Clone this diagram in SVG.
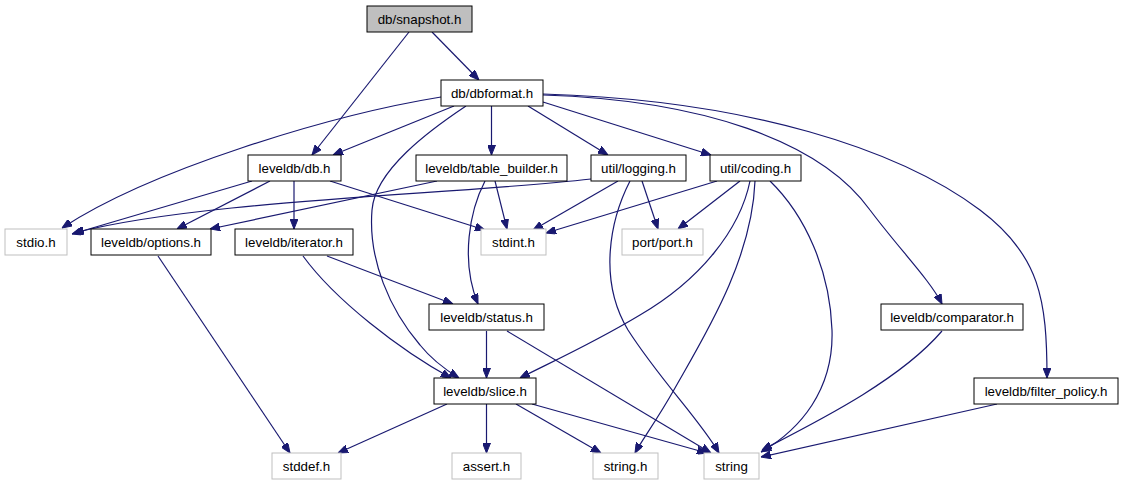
<svg xmlns="http://www.w3.org/2000/svg" width="1124" height="485" viewBox="0 0 1124 485">
<style>
.n rect{fill:#fff;stroke:#000;stroke-width:1}
.n.ext rect{stroke:#bfbfbf}
.n.cur rect{fill:#bfbfbf}
.n text{font-family:"Liberation Sans",Arial,sans-serif;font-size:13.33px;text-anchor:middle;fill:#000}
#edges path{fill:none;stroke:#191970;stroke-width:1.2;marker-end:url(#ah)}
</style>
<defs>
<marker id="ah" markerUnits="userSpaceOnUse" markerWidth="10" markerHeight="8" refX="10" refY="4" orient="auto">
<path d="M0,0 L10,4 L0,8 z" fill="#191970" stroke="#191970"/>
</marker>
</defs>
<rect width="1124" height="485" fill="#fff"/>
<g id="edges">
<path d="M432,32 L479,80"/>
<path d="M409,32 L312,155"/>
<path d="M454,106 L333,155"/>
<path d="M441,97 C 330,115 150,170 62,228"/>
<path d="M466,106 C 430,130 375,170 372,210 C 368,260 390,310 420,345 C 432,360 446,370 459,378"/>
<path d="M491.5,106 L491.5,155"/>
<path d="M528,106 L608,155"/>
<path d="M543,102 L711,155"/>
<path d="M543,95 C 700,100 820,140 870,210 C 900,250 930,280 942,304"/>
<path d="M543,94 C 750,100 900,150 980,210 C 1040,255 1047,300 1047,378"/>
<path d="M252,181 L72,234"/>
<path d="M591,179 C 450,195 200,200 74,233"/>
<path d="M270,181 L177,229"/>
<path d="M437,181 L210,229"/>
<path d="M294,181 L294,229"/>
<path d="M330,181 L485,230"/>
<path d="M495,181 L507,229"/>
<path d="M485,181 C 470,210 460,260 478,304"/>
<path d="M618,181 L533,230"/>
<path d="M717,181 L546,233"/>
<path d="M642,181 L658,229"/>
<path d="M740,181 L678,229"/>
<path d="M630,181 C 610,220 598,280 628,330 C 660,380 700,420 719,453"/>
<path d="M755,181 C 752,260 705,335 675,388 C 657,420 642,440 635,453"/>
<path d="M750,181 C 740,230 700,280 640,315 C 590,345 545,365 520,378"/>
<path d="M770,181 C 805,215 830,270 832,330 C 834,390 800,430 761,452"/>
<path d="M942,331 C 900,380 820,420 762,450"/>
<path d="M997,404 L761,457"/>
<path d="M327,256 L453,304"/>
<path d="M303,256 C 335,300 400,350 451,378"/>
<path d="M486.5,331 L486.5,378"/>
<path d="M507,331 L711,453"/>
<path d="M447,404 L338,453"/>
<path d="M486.5,404 L486.5,453"/>
<path d="M516,404 L601,453"/>
<path d="M532,404 L707,453"/>
<path d="M158,256 L290,453"/>
</g>
<g id="snapshot" class="n cur"><rect x="367" y="6" width="105" height="26"/><text x="419.5" y="23.5">db/snapshot.h</text></g>
<g id="dbformat" class="n"><rect x="441" y="80" width="102" height="26"/><text x="492" y="97.5">db/dbformat.h</text></g>
<g id="db" class="n"><rect x="248" y="155" width="93" height="26"/><text x="294.5" y="172.5">leveldb/db.h</text></g>
<g id="table_builder" class="n"><rect x="416" y="155" width="151" height="26"/><text x="491.5" y="172.5">leveldb/table_builder.h</text></g>
<g id="logging" class="n"><rect x="591" y="155" width="95" height="26"/><text x="638.5" y="172.5">util/logging.h</text></g>
<g id="coding" class="n"><rect x="710" y="155" width="91" height="26"/><text x="755.5" y="172.5">util/coding.h</text></g>
<g id="stdio" class="n ext"><rect x="5" y="229" width="62" height="26"/><text x="36" y="246.5">stdio.h</text></g>
<g id="options" class="n"><rect x="91" y="229" width="120" height="26"/><text x="151" y="246.5">leveldb/options.h</text></g>
<g id="iterator" class="n"><rect x="235" y="229" width="118" height="26"/><text x="294" y="246.5">leveldb/iterator.h</text></g>
<g id="stdint" class="n ext"><rect x="481" y="229" width="65" height="26"/><text x="513.5" y="246.5">stdint.h</text></g>
<g id="port" class="n ext"><rect x="622" y="229" width="81" height="26"/><text x="662.5" y="246.5">port/port.h</text></g>
<g id="status" class="n"><rect x="429" y="304" width="115" height="26"/><text x="486.5" y="321.5">leveldb/status.h</text></g>
<g id="comparator" class="n"><rect x="881" y="304" width="142" height="26"/><text x="952" y="321.5">leveldb/comparator.h</text></g>
<g id="slice" class="n"><rect x="434" y="378" width="102" height="26"/><text x="485" y="395.5">leveldb/slice.h</text></g>
<g id="filter_policy" class="n"><rect x="974" y="378" width="144" height="26"/><text x="1046" y="395.5">leveldb/filter_policy.h</text></g>
<g id="stddef" class="n ext"><rect x="272" y="453" width="69" height="26"/><text x="306.5" y="470.5">stddef.h</text></g>
<g id="assert" class="n ext"><rect x="452" y="453" width="69" height="26"/><text x="486.5" y="470.5">assert.h</text></g>
<g id="string_h" class="n ext"><rect x="593" y="453" width="65" height="26"/><text x="625.5" y="470.5">string.h</text></g>
<g id="string" class="n ext"><rect x="704" y="453" width="55" height="26"/><text x="731.5" y="470.5">string</text></g>
</svg>
